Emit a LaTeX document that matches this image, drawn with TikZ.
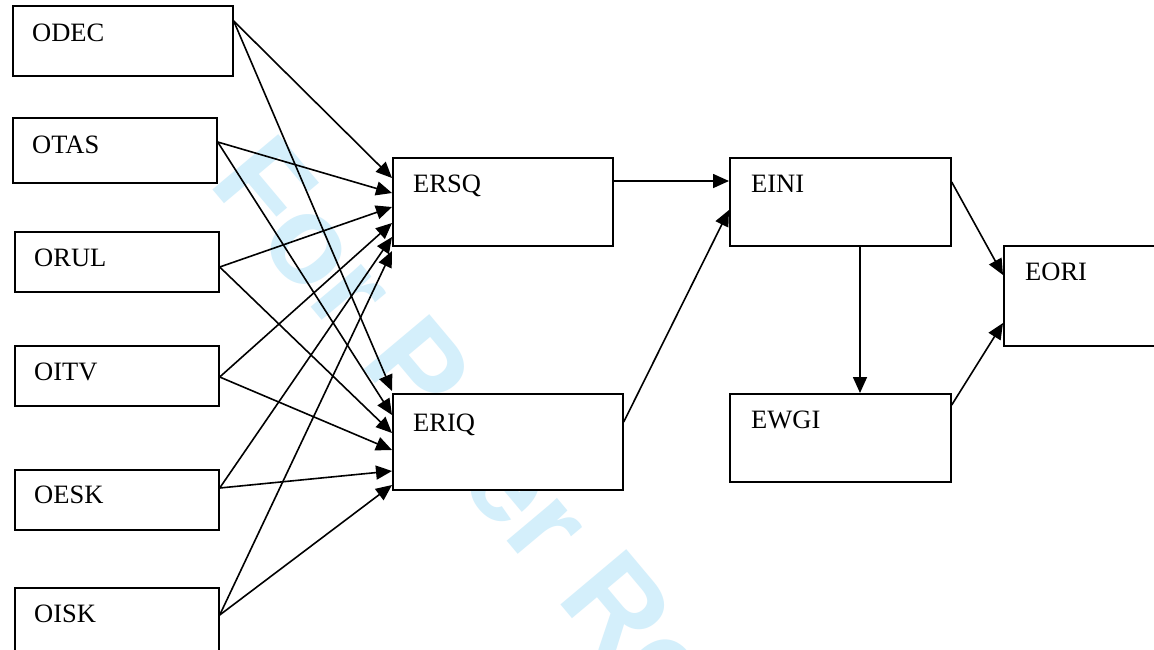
\documentclass[tikz,border=0pt]{standalone}
\usepackage{fontspec}
\setmainfont{Liberation Serif}
\newfontfamily\wmfont{Liberation Sans}
\usetikzlibrary{arrows.meta,calc}
\definecolor{wmblue}{RGB}{212,239,251}
\begin{document}
\begin{tikzpicture}[x=1pt,y=-1pt,
  box/.style={draw,line width=1.7pt,fill=white,inner sep=0pt,anchor=north west},
  lbl/.style={anchor=base west,inner sep=0pt,font=\fontsize{26.5}{30}\selectfont},
  arr/.style={line width=1.6pt,-{Triangle[length=16pt,width=14pt]}},
  wmark/.style={anchor=base west,inner sep=0pt,text=wmblue,rotate=-50,
    font=\wmfont\bfseries\fontsize{125}{125}\selectfont}
  ]
\clip (0,0) rectangle (1154,649);
\fill[white] (0,0) rectangle (1154,649);
% watermark
\node[wmark] (wm) at (207,183) {For Peer Review};
% left boxes
\node[box,minimum width=220pt,minimum height=70pt] (odec) at (12,5) {};
\node[box,minimum width=204pt,minimum height=65pt] (otas) at (12,117) {};
\node[box,minimum width=204pt,minimum height=60pt] (orul) at (14,231) {};
\node[box,minimum width=204pt,minimum height=60pt] (oitv) at (14,345) {};
\node[box,minimum width=204pt,minimum height=60pt] (oesk) at (14,469) {};
\node[box,minimum width=204pt,minimum height=78pt] (oisk) at (14,587) {};
% middle boxes
\node[box,minimum width=220pt,minimum height=88pt] (ersq) at (392,157) {};
\node[box,minimum width=230pt,minimum height=96pt] (eriq) at (392,393) {};
\node[box,minimum width=221pt,minimum height=88pt] (eini) at (729,157) {};
\node[box,minimum width=221pt,minimum height=88pt] (ewgi) at (729,393) {};
\node[box,minimum width=170pt,minimum height=100pt] (eori) at (1003,245) {};
% labels
\node[lbl] (odect) at (32,41) {ODEC};
\node[lbl] (otast) at (32,153) {OTAS};
\node[lbl] (orult) at (34,266) {ORUL};
\node[lbl] (oitvt) at (34,380) {OITV};
\node[lbl] (oeskt) at (34,503) {OESK};
\node[lbl] (oiskt) at (34,622) {OISK};
\node[lbl] (ersqt) at (413,192) {ERSQ};
\node[lbl] (eriqt) at (413,431) {ERIQ};
\node[lbl] (einit) at (751,192) {EINI};
\node[lbl] (ewgit) at (751,428) {EWGI};
\node[lbl] (eorit) at (1025,280) {EORI};
% connectors into ERSQ
\draw[arr] (odec.east |- 0,21)  -- (ersq.west |- 0,178);
\draw[arr] (otas.east |- 0,142) -- (ersq.west |- 0,193);
\draw[arr] (orul.east |- 0,267) -- (ersq.west |- 0,207);
\draw[arr] (oitv.east |- 0,377) -- (ersq.west |- 0,223);
\draw[arr] (oesk.east |- 0,488) -- (ersq.west |- 0,237);
\draw[arr] (oisk.east |- 0,615) -- (ersq.west |- 0,251);
% connectors into ERIQ
\draw[arr] (odec.east |- 0,21)  -- (eriq.west |- 0,391);
\draw[arr] (otas.east |- 0,142) -- (eriq.west |- 0,415);
\draw[arr] (orul.east |- 0,267) -- (eriq.west |- 0,433);
\draw[arr] (oitv.east |- 0,377) -- (eriq.west |- 0,450);
\draw[arr] (oesk.east |- 0,488) -- (eriq.west |- 0,471);
\draw[arr] (oisk.east |- 0,615) -- (eriq.west |- 0,485);
% right part
\draw[arr] (ersq.east |- 0,181) -- (eini.west |- 0,181);
\draw[arr] (eriq.east |- 0,422) -- (eini.west |- 0,210);
\draw[arr] (860,0 |- eini.south) -- (860,0 |- ewgi.north);
\draw[arr] (eini.east |- 0,182) -- (eori.west |- 0,275);
\draw[arr] (ewgi.east |- 0,405) -- (eori.west |- 0,323);
\end{tikzpicture}
\end{document}
